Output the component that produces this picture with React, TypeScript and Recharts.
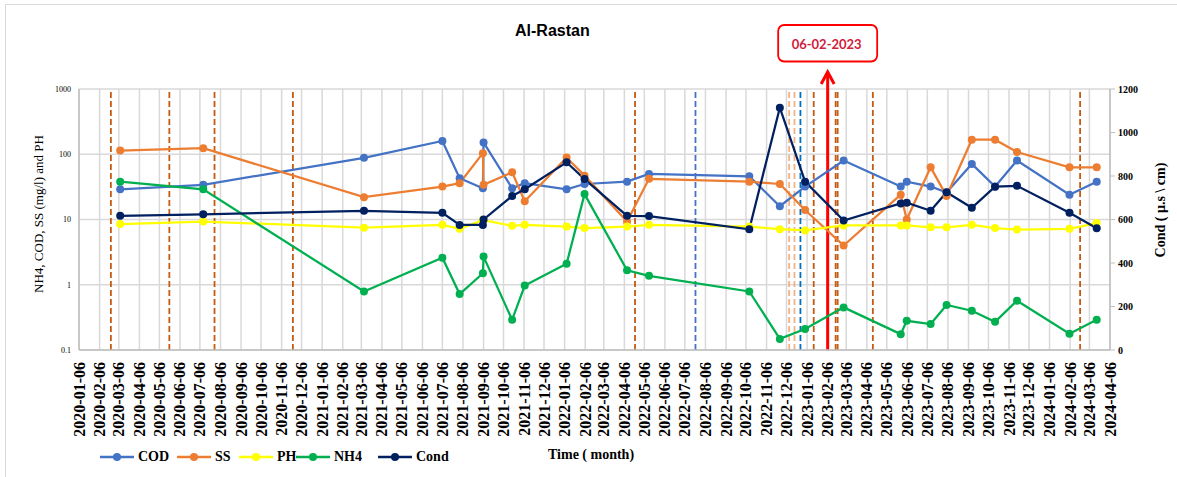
import React from "react";
import {
  LineChart,
  Line,
  XAxis,
  YAxis,
  CartesianGrid,
  ReferenceLine,
  Legend,
} from "recharts";

// sampling dates and measured values
const sampleDates = [
  "2020-03-08", "2020-07-11", "2021-03-10", "2021-07-06", "2021-08-01",
  "2021-09-05", "2021-09-06", "2021-10-19", "2021-11-07", "2022-01-09",
  "2022-02-05", "2022-04-10", "2022-05-13", "2022-10-11", "2022-11-26",
  "2023-01-03", "2023-03-02", "2023-05-27", "2023-06-05", "2023-07-11",
  "2023-08-04", "2023-09-11", "2023-10-16", "2023-11-18", "2024-02-05",
  "2024-03-17",
];
const cod = [29, 34, 88, 160, 43, 30, 152, 30, 36, 29, 35, 38, 50, 46, 16, 32, 80, 32, 38, 32, 26, 71, 32, 80, 24, 38];
const ss = [114, 124, 22, 32, 36, 104, 34, 53, 19, 89, 47, 9.3, 42, 38, 35, 14, 4, 24, 10, 63, 23, 167, 167, 108, 63, 63];
const ph = [8.5, 9.3, 7.5, 8.3, 7.2, 9.8, 9.8, 8.0, 8.3, 7.8, 7.4, 7.8, 8.3, 7.8, 7.1, 6.8, 8.1, 8.1, 8.1, 7.6, 7.6, 8.3, 7.4, 7.0, 7.2, 8.8];
const nh4 = [38, 29, 0.79, 2.6, 0.72, 1.5, 2.7, 0.29, 0.97, 2.1, 24.5, 1.67, 1.37, 0.79, 0.148, 0.21, 0.45, 0.175, 0.28, 0.25, 0.49, 0.4, 0.27, 0.57, 0.177, 0.29];
const cond = [617, 624, 640, 631, 575, 575, 600, 708, 739, 863, 786, 617, 616, 555, 1114, 774, 595, 674, 677, 640, 725, 654, 751, 755, 631, 560];

// event markers (dashed verticals)
const orangeEvents = [
  "2020-02-23", "2020-05-21", "2020-07-28", "2020-11-23", "2022-04-22",
  "2023-01-16", "2023-02-18", "2023-02-21", "2023-04-15", "2024-02-21",
];
const lightOrangeEvents = ["2022-12-10", "2022-12-18"];
const blueEvents = ["2022-07-22", "2022-12-27"];
const highlightDate = "2023-02-06";
const highlightLabel = "06-02-2023";

const leftTicks = [0.1, 1, 10, 100, 1000];
const rightTicks = [0, 200, 400, 600, 800, 1000, 1200];

const toT = (s: string) => {
  const [y, m, d] = s.split("-").map(Number);
  return Date.UTC(y, m - 1, d);
};

const tickLabels: string[] = [];
for (let y = 2020; y <= 2024; y++) {
  for (let m = 1; m <= 12; m++) {
    if (y === 2024 && m > 4) break;
    tickLabels.push(`${y}-${String(m).padStart(2, "0")}-06`);
  }
}
const xTicks = tickLabels.map(toT);

const data = sampleDates.map((d, i) => ({
  t: toT(d),
  cod: cod[i],
  ss: ss[i],
  ph: ph[i],
  nh4: nh4[i],
  cond: cond[i],
}));

const series = [
  { key: "cod", name: "COD", color: "#4472C4", axis: "left" },
  { key: "ss", name: "SS", color: "#ED7D31", axis: "left" },
  { key: "ph", name: "PH", color: "#FFFF00", axis: "left" },
  { key: "nh4", name: "NH4", color: "#00B050", axis: "left" },
  { key: "cond", name: "Cond", color: "#002060", axis: "right" },
];

const legendX = [100, 177, 239, 296, 378];

const fmtDate = (t: number) => new Date(t).toISOString().slice(0, 10);

const XTick = (props: any) => {
  const { x, payload } = props;
  const y = 362;
  return (
    <text
      x={x}
      y={y}
      transform={`rotate(-90 ${x} ${y})`}
      textAnchor="end"
      dominantBaseline="central"
      fontFamily="'Liberation Serif', serif"
      fontWeight="bold"
      fontSize={16}
      fill="#000"
    >
      {fmtDate(payload.value)}
    </text>
  );
};

const RedArrow = (p: any) => {
  const x = p.x1;
  const yb = Math.max(p.y1, p.y2);
  const tip = 72;
  return (
    <g>
      <line x1={x} y1={yb} x2={x} y2={tip + 1} stroke="#FF0000" strokeWidth={3} />
      <polyline
        points={`${x - 6.5},${tip + 12} ${x},${tip} ${x + 6.5},${tip + 12}`}
        fill="none"
        stroke="#FF0000"
        strokeWidth={3}
      />
      <rect x={x - 49.5} y={25} width={99} height={36.5} rx={6} fill="#fff" stroke="#FF0000" strokeWidth={1.8} />
      <text
        x={x - 1}
        y={44}
        textAnchor="middle"
        dominantBaseline="central"
        fontFamily="Lato, 'Liberation Sans', sans-serif"
        fontWeight="bold"
        fontSize={13}
        fill="#D0203A"
      >
        {highlightLabel}
      </text>
    </g>
  );
};

const LegendContent = () => (
  <div style={{ position: "relative", width: 400, height: 20 }}>
    {series.map((s, i) => (
      <div
        key={s.key}
        style={{
          position: "absolute",
          left: legendX[i] - 95,
          top: 0,
          display: "flex",
          alignItems: "center",
          height: 20,
        }}
      >
        <svg width={34} height={10} style={{ marginRight: 4 }}>
          <line x1={0} y1={5} x2={34} y2={5} stroke={s.color} strokeWidth={2.5} />
          <circle cx={17} cy={5} r={4} fill={s.color} />
        </svg>
        <span
          style={{
            fontFamily: "'Liberation Serif', serif",
            fontWeight: "bold",
            fontSize: 14,
            color: "#000",
          }}
        >
          {s.name}
        </span>
      </div>
    ))}
  </div>
);

export default function App() {
  return (
    <div style={{ position: "absolute", left: 0, top: 0, width: 1177, height: 477, background: "#fff", overflow: "hidden" }}>
      <div
        style={{
          position: "absolute",
          left: 5,
          top: 4,
          width: 1200,
          height: 500,
          borderLeft: "1.5px solid #D9D9D9",
          borderTop: "1.5px solid #D9D9D9",
        }}
      />
      <div
        style={{
          position: "absolute",
          left: 0,
          width: 1110,
          top: 22,
          textAlign: "center",
          paddingLeft: 0,
          fontFamily: "'Liberation Sans', Arial, sans-serif",
          fontWeight: "bold",
          fontSize: 16,
        }}
      >
        <span style={{ position: "absolute", left: 515 }}>Al-Rastan</span>
      </div>
      <div
        style={{
          position: "absolute",
          left: 548,
          top: 447,
          fontFamily: "'Liberation Serif', serif",
          fontWeight: "bold",
          fontSize: 14,
        }}
      >
        Time ( month)
      </div>
      <div style={{ position: "absolute", left: 0, top: 0 }}>
        <LineChart width={1177} height={477} data={data} margin={{ top: 89, right: 0, left: 0, bottom: 0 }}>
          <CartesianGrid yAxisId="left" stroke="#D9D9D9" strokeWidth={1.5} />
          <XAxis
            type="number"
            dataKey="t"
            domain={[xTicks[0], xTicks[xTicks.length - 1]]}
            ticks={xTicks}
            interval={0}
            tick={<XTick />}
            tickLine={false}
            axisLine={{ stroke: "#BFBFBF", strokeWidth: 1.5 }}
            height={127}
          />
          <YAxis
            yAxisId="left"
            scale="log"
            domain={[0.1, 1000]}
            allowDataOverflow
            ticks={leftTicks}
            width={79}
            tickLine={false}
            axisLine={{ stroke: "#BFBFBF", strokeWidth: 1.5 }}
            tick={{ fontSize: 8, fontFamily: "'Liberation Serif', serif", fill: "#000" }}
            tickFormatter={(v: number) => String(v)}
            label={{
              content: () => (
                <text
                  x={38}
                  y={214}
                  transform="rotate(-90 38 214)"
                  textAnchor="middle"
                  dominantBaseline="central"
                  fontFamily="'Liberation Serif', serif"
                  fontSize={13}
                  fill="#000"
                >
                  NH4, COD, SS (mg/l) and PH
                </text>
              ),
            }}
          />
          <YAxis
            yAxisId="right"
            orientation="right"
            domain={[0, 1200]}
            ticks={rightTicks}
            width={67}
            tickSize={5}
            tickMargin={3}
            tickLine={{ stroke: "#BFBFBF" }}
            axisLine={{ stroke: "#BFBFBF", strokeWidth: 1.5 }}
            tick={{ fontSize: 10, fontFamily: "'Liberation Serif', serif", fontWeight: "bold", fill: "#000" }}
            label={{
              content: () => (
                <text
                  x={1160}
                  y={210}
                  transform="rotate(-90 1160 210)"
                  textAnchor="middle"
                  dominantBaseline="central"
                  fontFamily="'Liberation Serif', serif"
                  fontWeight="bold"
                  fontSize={14}
                  fill="#000"
                >
                  Cond ( µ.s \ cm)
                </text>
              ),
            }}
          />
          {orangeEvents.map((d) => (
            <ReferenceLine key={d} yAxisId="left" x={toT(d)} stroke="#C55A11" strokeWidth={1.8} strokeDasharray="6 3" />
          ))}
          {lightOrangeEvents.map((d) => (
            <ReferenceLine key={d} yAxisId="left" x={toT(d)} stroke="#F4B183" strokeWidth={1.8} strokeDasharray="6 3" />
          ))}
          {blueEvents.map((d, i) => (
            <ReferenceLine key={d} yAxisId="left" x={toT(d)} stroke={i === 0 ? "#4472C4" : "#0070C0"} strokeWidth={1.8} strokeDasharray="6 3" />
          ))}
          <ReferenceLine yAxisId="left" x={toT(highlightDate)} stroke="#FF0000" strokeWidth={3} shape={RedArrow} />
          {series.map((s) => (
            <Line
              key={s.key}
              yAxisId={s.axis}
              type="linear"
              dataKey={s.key}
              name={s.name}
              stroke={s.color}
              strokeWidth={2.25}
              dot={{ r: 4, fill: s.color, stroke: s.color, strokeWidth: 0 }}
              isAnimationActive={false}
            />
          ))}
          <Legend
            verticalAlign="middle"
            align="center"
            content={<LegendContent />}
            wrapperStyle={{ left: 95, top: 447, width: 400, height: 20 }}
          />
        </LineChart>
      </div>
    </div>
  );
}
